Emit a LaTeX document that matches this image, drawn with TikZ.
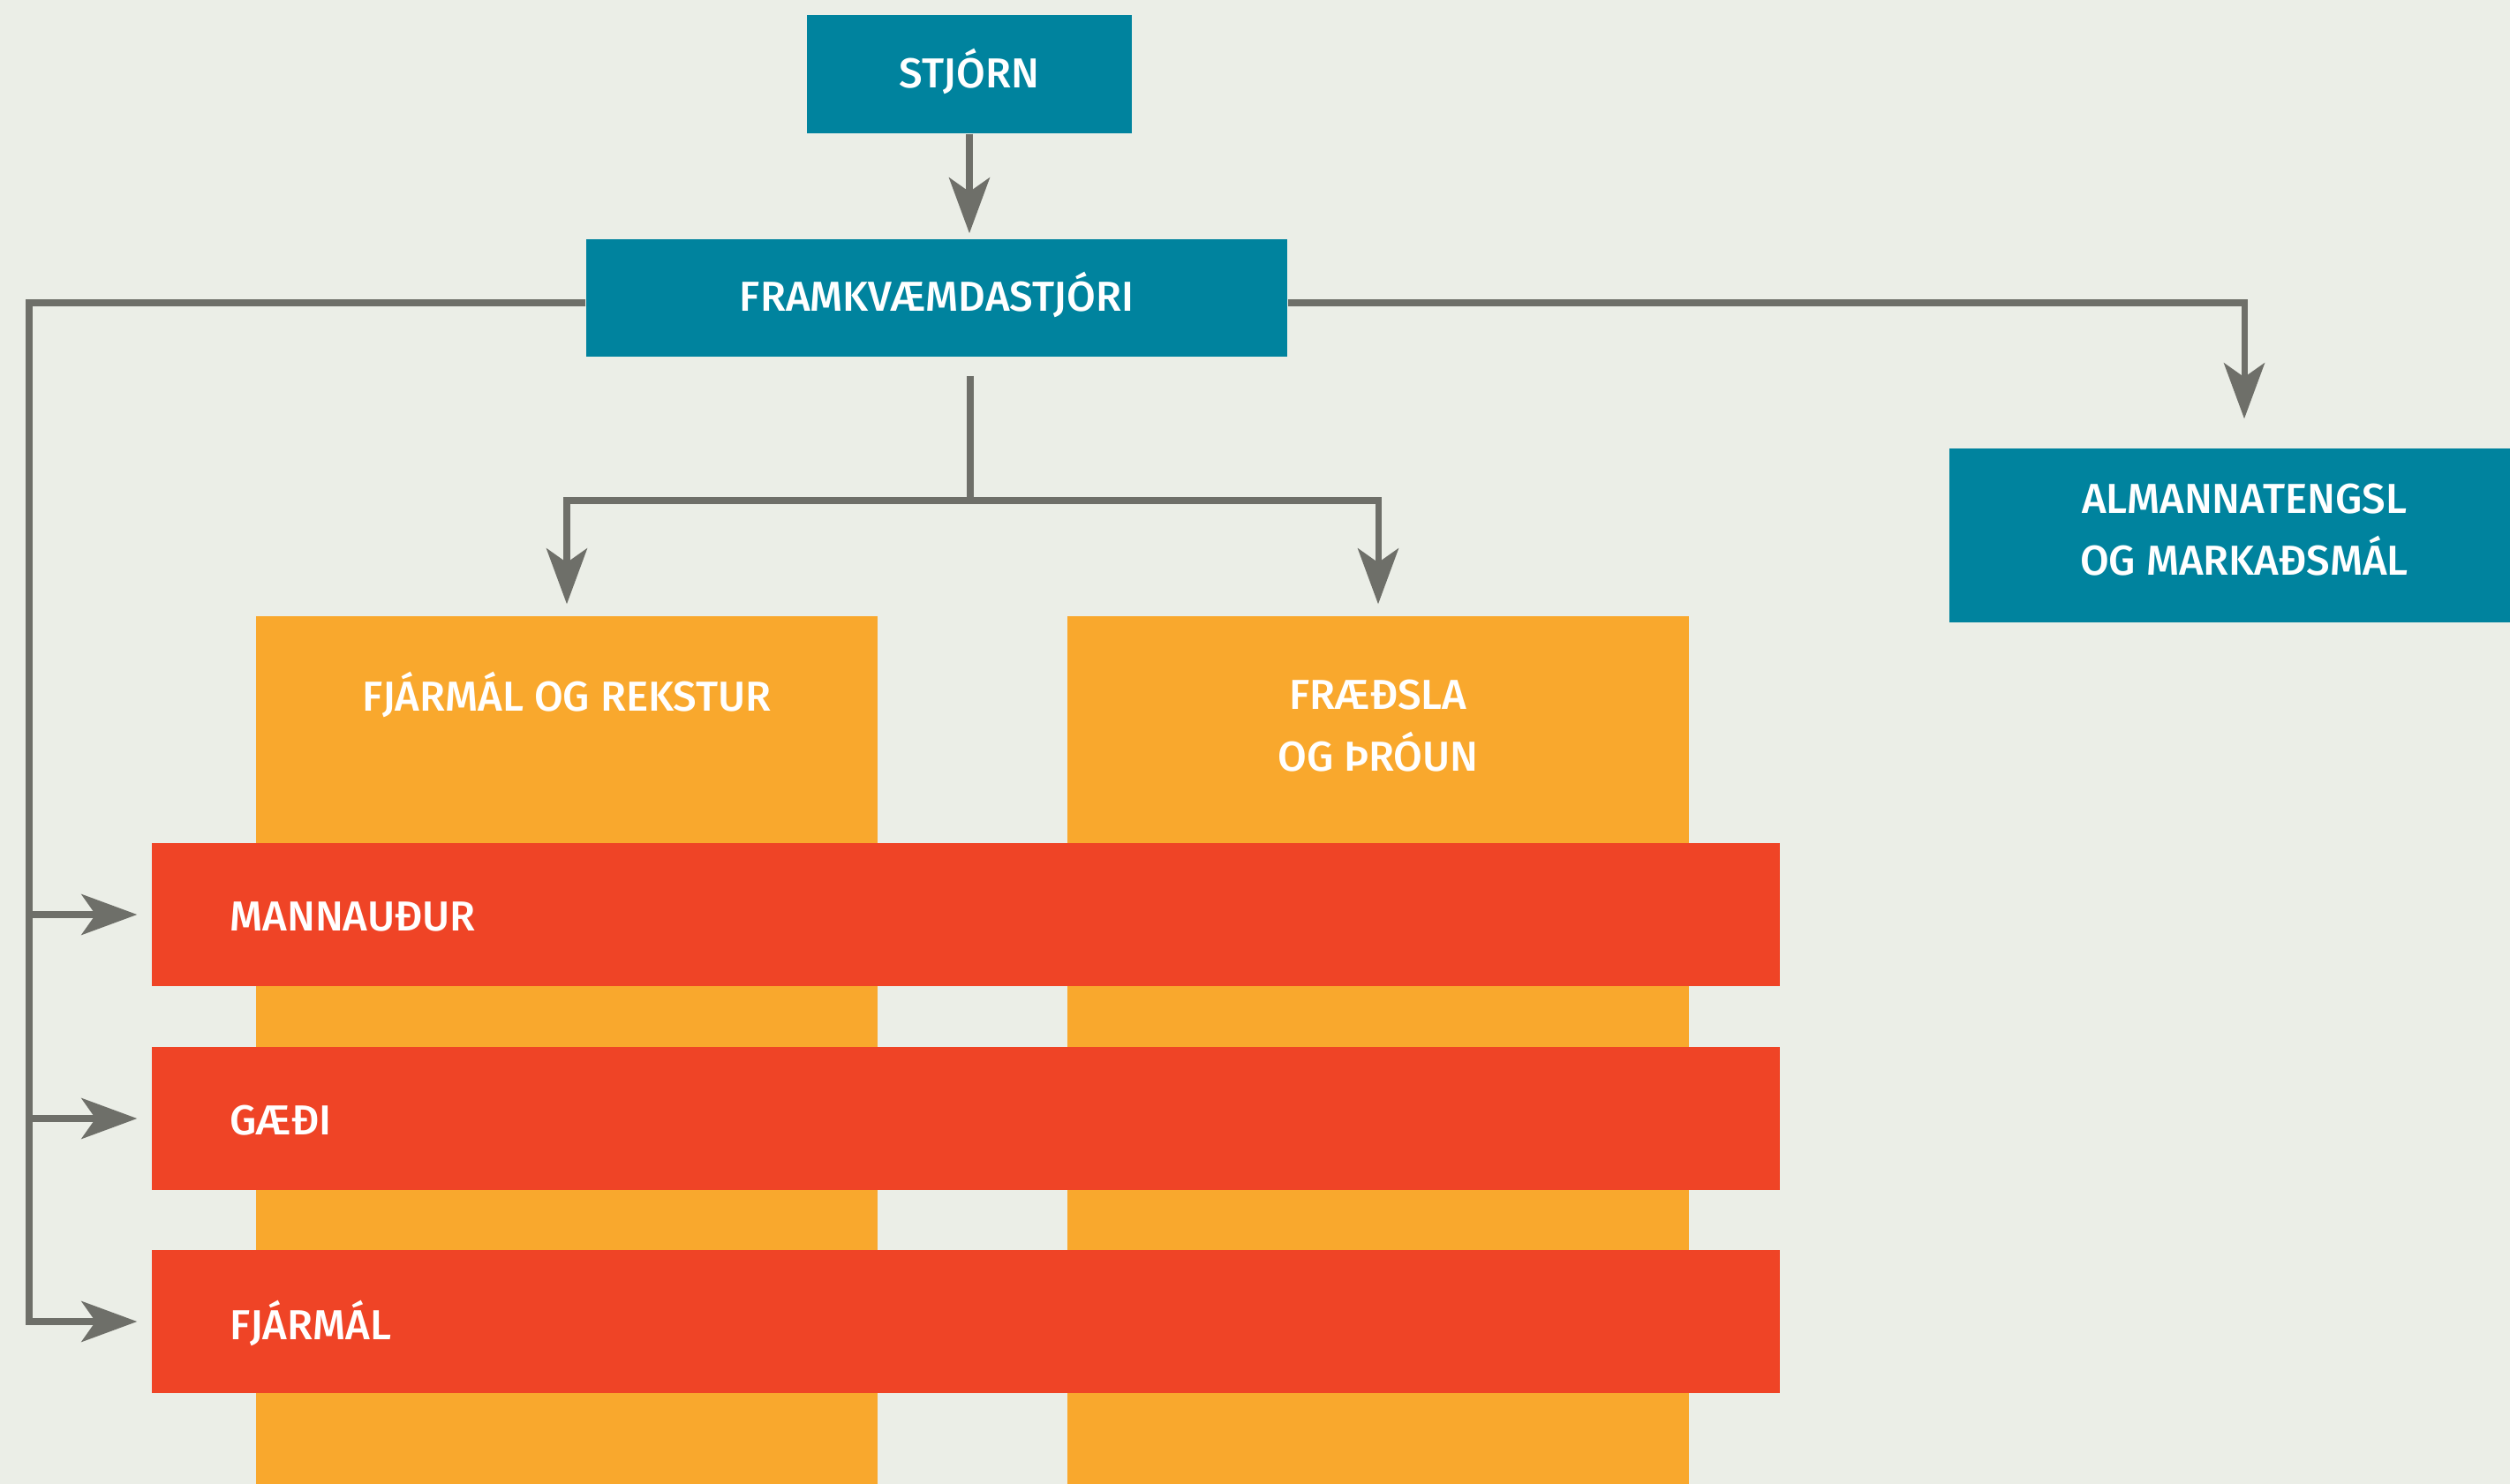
\documentclass[tikz,border=0pt]{standalone}
\usepackage{fontspec}
\setmainfont{Fira Sans}[BoldFont={Fira Sans Medium}]
\usepackage{xcolor}
\usepackage{tikz}
\usetikzlibrary{arrows.meta, positioning, calc}

\definecolor{bgcol}{RGB}{235,238,231}
\definecolor{teal}{RGB}{0,131,158}
\definecolor{orangecol}{RGB}{249,168,45}
\definecolor{redcol}{RGB}{239,68,38}
\definecolor{linecol}{RGB}{110,111,105}

\begin{document}
\begin{tikzpicture}[x=1cm, y=1cm,
		font=\fontsize{13.5}{20}\selectfont\bfseries,
		box/.style={fill=teal, text=white, align=center, inner sep=0pt, text depth=0.14cm},
		column/.style={fill=orangecol, minimum width=7.04cm, minimum height=10cm, inner sep=0pt},
		coltitle/.style={text=white, align=center},
		bar/.style={fill=redcol, text=white, minimum width=18.44cm, minimum height=1.62cm, inner sep=0pt},
		bartitle/.style={text=white, anchor=west},
		line/.style={draw=linecol, line width=2pt},
		conn/.style={line, -{Stealth[length=6.3mm, width=4.6mm, inset=1.6mm]}}]

		% background and page size
		\fill[bgcol] (0,0) rectangle (28.43,-16.81);
		\useasboundingbox (0,0) rectangle (28.43,-16.81);
		\clip (0,0) rectangle (28.43,-16.81);

		% top boxes
		\node[box, minimum width=3.68cm, minimum height=1.34cm] (stjorn) at (10.98,-0.84) {STJÓRN};
		\node[box, minimum width=7.94cm, minimum height=1.33cm] (framk) at (10.61,-3.375) {FRAMKVÆMDASTJÓRI};
		\node[box, minimum width=6.68cm, minimum height=1.97cm] (almann) at (25.42,-6.065) {ALMANNATENGSL\\OG MARKAÐSMÁL};

		% orange columns
		\node[column] (rekstur) at (6.42,-11.98) {};
		\node[column] (throun) at (15.61,-11.98) {};
		\node[coltitle] (rekstur title) at (6.42,-7.87) {FJÁRMÁL OG REKSTUR};
		\node[coltitle] (throun title) at (15.61,-8.22) {FRÆÐSLA\\OG ÞRÓUN};

		% red bars
		\node[bar] (mannaudur) at (10.94,-10.36) {};
		\node[bar] (gaedi) at (10.94,-12.67) {};
		\node[bar] (fjarmal) at (10.94,-14.97) {};
		\node[bartitle] (mannaudur title) at (2.48,-10.38) {MANNAUÐUR};
		\node[bartitle] (gaedi title) at (2.48,-12.69) {GÆÐI};
		\node[bartitle] (fjarmal title) at (2.48,-14.99) {FJÁRMÁL};

		% connectors
		\coordinate (rail) at (0.33,-3.43);
		\coordinate (stub) at (10.99,-4.26);
		\coordinate (split) at (10.99,-5.67);

		\draw[conn, shorten >=0.06cm] (stjorn.south) -- (stjorn.south |- framk.north);
		\draw[conn, shorten >=0.33cm] (framk.east |- rail) -| (almann.north);

		\draw[line] (stub) -- (split);
		\draw[conn, shorten >=0.13cm] (split) -| (rekstur.north);
		\draw[conn, shorten >=0.13cm] (split) -| (throun.north);

		\draw[conn, shorten >=0.16cm] (framk.west |- rail) -- (rail) |- (fjarmal.west);
		\foreach \b in {mannaudur, gaedi}
			\draw[conn, shorten >=0.16cm] (rail |- \b.west) -- (\b.west);
	\end{tikzpicture}
\end{document}
